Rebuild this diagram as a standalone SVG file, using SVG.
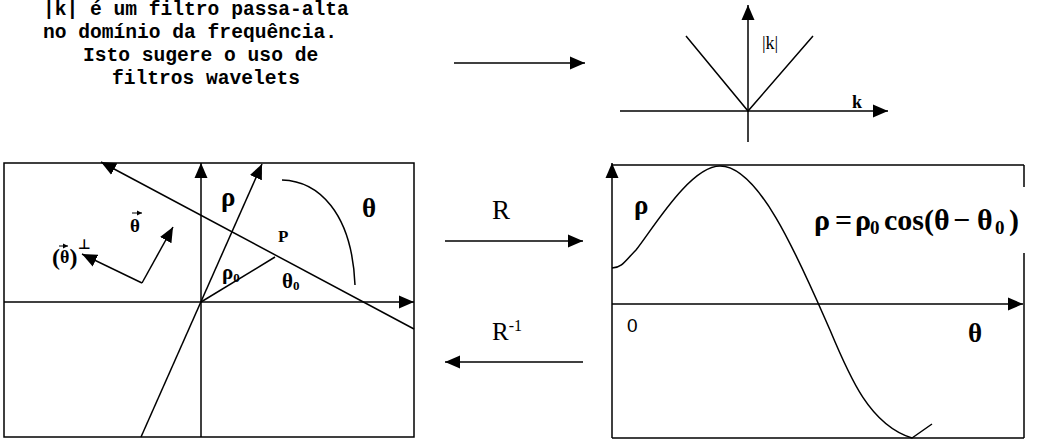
<svg xmlns="http://www.w3.org/2000/svg" width="1042" height="443" viewBox="0 0 1042 443">
<defs>
<marker id="ah" markerUnits="userSpaceOnUse" markerWidth="16" markerHeight="14" refX="15" refY="7" orient="auto"><path d="M0,0.5 L15,7 L0,13.5 z" fill="#000"/></marker>
<marker id="ahs" markerUnits="userSpaceOnUse" markerWidth="6" markerHeight="6" refX="5" refY="3" orient="auto"><path d="M0,0.5 L5,3 L0,5.5 z" fill="#000"/></marker>
<style>
.ln{stroke:#000;stroke-width:1.5;fill:none}
.ar{stroke:#000;stroke-width:1.5;fill:none;marker-end:url(#ah)}
.note{font-family:"Liberation Mono",monospace;font-weight:bold;font-size:19.6px;fill:#000}
.gb{font-family:"Liberation Serif",serif;font-weight:bold;fill:#000}
.sr{font-family:"Liberation Serif",serif;fill:#000}
</style>
</defs>
<rect width="1042" height="443" fill="#fff"/>

<g id="note">
<text class="note" x="43" y="15">|k| é um filtro passa-alta</text>
<text class="note" x="43" y="38">no domínio da frequência.</text>
<text class="note" x="83" y="61">Isto sugere o uso de</text>
<text class="note" x="112" y="84">filtros wavelets</text>
</g>

<g id="k-plot">
<line class="ln" x1="620" y1="111" x2="888" y2="111" style="marker-end:url(#ah)"/>
<line class="ln" x1="748" y1="142" x2="748" y2="5" style="marker-end:url(#ah)"/>
<polyline class="ln" points="686,36 748,111 813,36"/>
<text class="sr" x="762" y="49" font-size="18">|k|</text>
<text class="gb" x="852" y="108" font-size="18">k</text>
</g>

<g id="space-box">
<rect class="ln" x="4" y="163" width="410" height="274"/>
<line class="ar" x1="4" y1="302" x2="414" y2="302"/>
<line class="ar" x1="201" y1="437" x2="201" y2="163"/>
<line class="ar" x1="141" y1="437" x2="262" y2="164"/>
<line class="ar" x1="414" y1="329" x2="101" y2="162"/>
<line class="ln" x1="201" y1="302" x2="275" y2="257"/>
<path class="ln" d="M282,180 C318,181 352,212 355,285"/>
<line class="ar" x1="142" y1="283" x2="173" y2="227"/>
<line class="ar" x1="142" y1="283" x2="82" y2="254"/>
<text class="gb" x="221" y="206" font-size="27">ρ</text>
<text class="gb" x="362" y="217" font-size="27">θ</text>
<text class="gb" x="278" y="242" font-size="17">P</text>
<text class="gb" x="222" y="279" font-size="21">ρ<tspan font-size="13" dy="3">0</tspan></text>
<text class="gb" x="282" y="288" font-size="21">θ<tspan font-size="13" dy="2">0</tspan></text>
<text class="gb" x="130" y="232" font-size="19">θ</text>
<line x1="132" y1="213" x2="142" y2="213" stroke="#000" stroke-width="1" style="marker-end:url(#ahs)"/>
<text class="gb" x="52" y="265" font-size="24">(<tspan font-size="18" dy="-2">θ</tspan><tspan dy="2">)</tspan></text>
<text x="78" y="249" font-family="DejaVu Sans, sans-serif" font-weight="bold" font-size="14" fill="#000">⊥</text>
<line x1="59" y1="246" x2="68" y2="246" stroke="#000" stroke-width="1" style="marker-end:url(#ahs)"/>
</g>

<g id="connectors">
<line class="ar" x1="454" y1="63" x2="585" y2="63"/>
<line class="ar" x1="445" y1="241" x2="583" y2="241"/>
<line class="ar" x1="583" y1="362" x2="445" y2="362"/>
</g>
<g id="arrow-labels">
<text class="sr" x="492" y="219" font-size="27">R</text>
<text class="sr" x="492" y="340" font-size="25">R<tspan font-size="16" dy="-9">-1</tspan></text>
</g>

<g id="signal-box">
<line class="ln" x1="612" y1="165" x2="1024" y2="165"/>
<line class="ln" x1="1024" y1="165" x2="1024" y2="187"/>
<line class="ln" x1="1024" y1="253" x2="1024" y2="438"/>
<line class="ln" x1="612" y1="438" x2="1024" y2="438"/>
<line class="ar" x1="612" y1="438" x2="612" y2="163"/>
<line class="ar" x1="612" y1="304" x2="1023" y2="304"/>
<path class="ln" d="M612,268 C622,268 626,260 636,250 C652,230 690,166 720,166 C760,166 800,262 830,330 C850,378 870,425 912,438 L932,424"/>
<text class="gb" x="634" y="214" font-size="27">ρ</text>
<text class="gb" font-size="30" y="230"><tspan x="814">ρ</tspan><tspan x="835">=</tspan><tspan x="855">ρ</tspan><tspan x="870" font-size="19" dy="4">0</tspan><tspan x="884" dy="-4">cos(θ</tspan><tspan x="953">−</tspan><tspan x="977">θ</tspan><tspan x="995" font-size="19" dy="4">0</tspan><tspan x="1009" dy="-4">)</tspan></text>
<text x="627" y="332" font-family="Liberation Sans, sans-serif" font-size="19" fill="#000">0</text>
<text class="gb" x="968" y="342" font-size="27">θ</text>
</g>
</svg>
